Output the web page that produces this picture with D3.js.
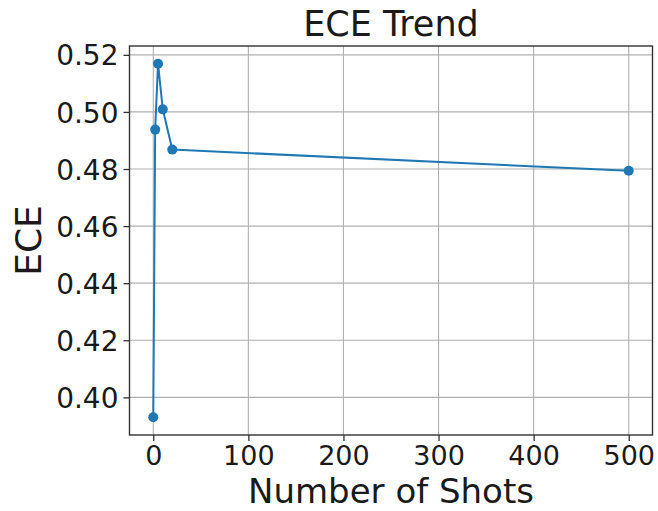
<!DOCTYPE html>
<html>
<head>
<meta charset="utf-8">
<script src="https://cdn.jsdelivr.net/npm/d3@7"></script>
<style>
  html, body { margin: 0; padding: 0; background: #fff; }
  svg { display: block; font-family: "DejaVu Sans", sans-serif; }
</style>
</head>
<body>
<svg id="chart" width="658" height="511"></svg>
<script>
// Number of shots vs. expected calibration error
const shots = [0, 2, 5, 10, 20, 500];
const ece = [0.393, 0.4938, 0.5169, 0.5009, 0.4868, 0.4794];
const xTicks = [0, 100, 200, 300, 400, 500];
const yTicks = [0.40, 0.42, 0.44, 0.46, 0.48, 0.50, 0.52];

const title = "ECE Trend";
const xLabel = "Number of Shots";
const yLabel = "ECE";

const W = 658, H = 511;
const margin = { left: 129.5, right: 5.5, top: 46, bottom: 76 };
const innerW = W - margin.left - margin.right;
const innerH = H - margin.top - margin.bottom;

const svg = d3.select("#chart");
const g = svg.append("g").attr("transform", `translate(${margin.left},${margin.top})`);

// matplotlib-style 5% padding around the data range
const xMin = d3.min(shots), xMax = d3.max(shots);
const yMin = d3.min(ece), yMax = d3.max(ece);
const xPad = (xMax - xMin) * 0.05, yPad = (yMax - yMin) * 0.05;

const x = d3.scaleLinear().domain([xMin - xPad, xMax + xPad]).range([0, innerW]);
const y = d3.scaleLinear().domain([yMin - yPad, yMax + yPad]).range([innerH, 0]);

// grid
g.append("g").selectAll("line").data(xTicks).join("line")
  .attr("x1", d => x(d)).attr("x2", d => x(d))
  .attr("y1", 0).attr("y2", innerH)
  .attr("stroke", "#b0b0b0").attr("stroke-width", 1.1);
g.append("g").selectAll("line").data(yTicks).join("line")
  .attr("y1", d => y(d)).attr("y2", d => y(d))
  .attr("x1", 0).attr("x2", innerW)
  .attr("stroke", "#b0b0b0").attr("stroke-width", 1.1);

// axes
const xAxis = g.append("g").attr("transform", `translate(0,${innerH})`)
  .call(d3.axisBottom(x).tickValues(xTicks).tickFormat(d3.format("d")).tickSize(6).tickPadding(5));
const yAxis = g.append("g")
  .call(d3.axisLeft(y).tickValues(yTicks).tickFormat(d3.format(".2f")).tickSize(6).tickPadding(5));

[xAxis, yAxis].forEach(a => {
  a.select(".domain").remove();
  a.selectAll(".tick line").attr("stroke", "#333").attr("stroke-width", 1.3);
  a.selectAll(".tick text").attr("fill", "#1a1a1a")
    .style("font-family", "'DejaVu Sans', sans-serif");
});
xAxis.selectAll(".tick text").style("font-size", "27px").attr("dy", "0.7em");
yAxis.selectAll(".tick text").style("font-size", "28px").attr("dy", "0.36em");

// frame
g.append("rect").attr("x", 0).attr("y", 0).attr("width", innerW).attr("height", innerH)
  .attr("fill", "none").attr("stroke", "#333").attr("stroke-width", 1.4);

// series line and markers
const line = d3.line().x((d, i) => x(shots[i])).y(d => y(d));
g.append("path").datum(ece).attr("d", line)
  .attr("fill", "none").attr("stroke", "#1f77b4").attr("stroke-width", 2)
  .attr("stroke-linejoin", "round");
g.append("g").selectAll("circle").data(ece).join("circle")
  .attr("cx", (d, i) => x(shots[i])).attr("cy", d => y(d)).attr("r", 5)
  .attr("fill", "#1f77b4");

// labels
svg.append("text").attr("x", margin.left + innerW / 2).attr("y", 36)
  .attr("text-anchor", "middle").style("font-size", "35px").attr("fill", "#1a1a1a").text(title);
svg.append("text").attr("x", margin.left + innerW / 2).attr("y", 503)
  .attr("text-anchor", "middle").style("font-size", "34px").attr("fill", "#1a1a1a").text(xLabel);
svg.append("text")
  .attr("transform", `translate(41,${margin.top + innerH / 2}) rotate(-90)`)
  .attr("text-anchor", "middle").style("font-size", "36px").attr("fill", "#1a1a1a").text(yLabel);
</script>
</body>
</html>
